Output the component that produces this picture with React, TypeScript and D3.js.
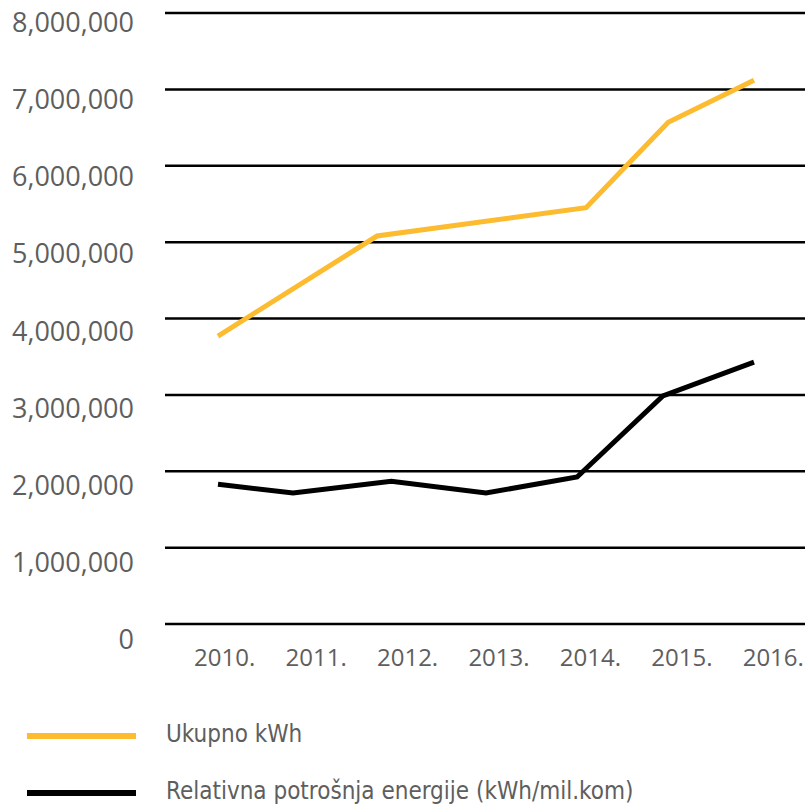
import React from 'react';
import * as d3 from 'd3';

// categories on the x axis
const years = ['2010.', '2011.', '2012.', '2013.', '2014.', '2015.', '2016.'];

// y axis ticks
const yTicks = [0, 1000000, 2000000, 3000000, 4000000, 5000000, 6000000, 7000000, 8000000];

// Ukupno kWh (points sit slightly off the year marks in the original)
const ukupnoYears = [2010, 2011.78, 2014.12, 2015.04, 2016];
const ukupnoValues = [3770000, 5080000, 5450000, 6570000, 7120000];

// Relativna potrošnja energije (kWh/mil.kom)
const relativnaYears = [2010, 2010.84, 2011.94, 2013.0, 2014.02, 2014.98, 2016];
const relativnaValues = [1830000, 1715000, 1870000, 1715000, 1925000, 2985000, 3430000];

const legendItems = [
  { label: 'Ukupno kWh', color: '#fdbb30' },
  { label: 'Relativna potrošnja energije (kWh/mil.kom)', color: '#000000' },
];

const W = 808;
const H = 806;

const App = () => {
  const y = d3.scaleLinear().domain([0, 8000000]).range([624, 13]);
  // labels drift a little from the gridlines in the original
  const yLabel = d3.scaleLinear().domain([0, 8000000]).range([649, 32]);
  const xBand = d3.scaleBand<string>().domain(years).range([165, 805]);
  const xLine = d3.scaleLinear().domain([2010, 2016]).range([218, 754]);
  const fmt = d3.format(',');

  const line = d3.line<[number, number]>()
    .x(d => xLine(d[0]))
    .y(d => y(d[1]));

  const ukupno = ukupnoYears.map((yr, i) => [yr, ukupnoValues[i]] as [number, number]);
  const relativna = relativnaYears.map((yr, i) => [yr, relativnaValues[i]] as [number, number]);

  const textColor = '#5e5e5e';

  return (
    <div style={{ position: 'absolute', left: 0, top: 0 }}>
      <svg width={W} height={H} style={{ display: 'block', background: '#fff' }}>
        {/* gridlines */}
        <g>
          {yTicks.map(t => (
            <line key={t} x1={165} x2={805} y1={y(t)} y2={y(t)} stroke="#000" strokeWidth={2.5} />
          ))}
        </g>

        {/* y labels */}
        <g fontFamily="'Open Sans', sans-serif" fontSize={27} fill={textColor} textAnchor="end">
          {yTicks.map(t => (
            <text key={t} x={134} y={yLabel(t)}>{fmt(t)}</text>
          ))}
        </g>

        {/* x labels */}
        <g fontFamily="'Open Sans', sans-serif" fontSize={24} fill={textColor} textAnchor="middle">
          {years.map(yr => (
            <text key={yr} x={(xBand(yr) as number) + xBand.bandwidth() / 2 + 14} y={666}>{yr}</text>
          ))}
        </g>

        {/* series */}
        <path d={line(ukupno) as string} fill="none" stroke={legendItems[0].color} strokeWidth={5} strokeLinejoin="miter" />
        <path d={line(relativna) as string} fill="none" stroke={legendItems[1].color} strokeWidth={5} strokeLinejoin="miter" />

        {/* legend */}
        <g fontFamily="'Liberation Sans Narrow', 'DejaVu Sans Condensed', sans-serif" fontSize={24} fill={textColor}>
          {legendItems.map((it, i) => (
            <g key={it.label} transform={`translate(0, ${736 + i * 57})`}>
              <line x1={27} x2={136} y1={0} y2={0} stroke={it.color} strokeWidth={6} />
              <text x={166} y={6}>{it.label}</text>
            </g>
          ))}
        </g>
      </svg>
    </div>
  );
};

export default App;
